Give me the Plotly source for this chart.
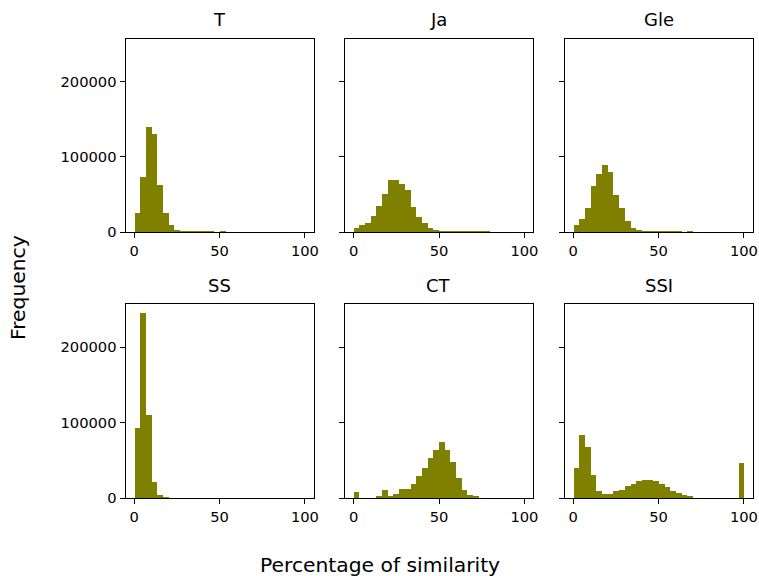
import numpy as np
import plotly.graph_objects as go

# ---- data (counts per bin, 30 equal bins from 0 to 100) ----
panel_titles = ["T", "Ja", "Gle", "SS", "CT", "SSI"]

T_counts = [26000, 73700, 139900, 131100, 63500, 26000, 10600, 3900, 2100, 2000,
            1800, 1700, 1500, 1400, 200, 2500, 0, 0, 0, 0,
            0, 0, 0, 0, 0, 0, 0, 0, 0, 0]
Ja_counts = [6600, 9700, 13200, 22900, 36200, 51700, 69700, 69700, 64900, 57000,
             33900, 21600, 13200, 6600, 3900, 2500, 2200, 2000, 1800, 1600,
             1500, 1300, 1200, 1100, 0, 0, 0, 0, 0, 0]
Gle_counts = [10600, 18500, 33100, 62700, 78100, 90000, 80300, 50700, 33100, 16300,
              7000, 3900, 3000, 2000, 1900, 1800, 1700, 1600, 1500, 0,
              2000, 0, 0, 0, 0, 0, 0, 0, 0, 0]
SS_counts = [92700, 245500, 109500, 20700, 4400, 1300, 0, 0, 0, 0,
             0, 0, 0, 0, 0, 0, 0, 0, 0, 0,
             0, 0, 0, 0, 0, 0, 0, 0, 0, 0]
CT_counts = [7500, 0, 0, 0, 2000, 10200, 2200, 5300, 11900, 11900,
             18500, 28700, 39700, 53000, 64000, 73800, 64000, 47700, 26500, 10600,
             3500, 1800, 0, 0, 0, 0, 0, 0, 0, 0]
SSI_counts = [39700, 83900, 67100, 30000, 8800, 5300, 5300, 8800, 10600, 15500,
              19000, 22500, 23800, 23800, 22500, 19000, 14200, 9700, 6200, 4400,
              1800, 0, 0, 0, 0, 0, 0, 0, 0, 46400]

all_counts = [T_counts, Ja_counts, Gle_counts, SS_counts, CT_counts, SSI_counts]

x_tick_vals = [0, 50, 100]
x_tick_text = ["0", "50", "100"]
y_tick_vals = [0, 100000, 200000]
y_tick_text = ["0", "100000", "200000"]

x_label = "Percentage of similarity"
y_label = "Frequency"

# ---- layout geometry ----
W, H = 759, 576
bin_edges = np.linspace(0, 100, 31)
bin_w = bin_edges[1] - bin_edges[0]
bin_centers = bin_edges[:-1] + bin_w / 2

col_px = [(125.5, 313.5), (345.0, 533.0), (564.5, 752.5)]
row_px = [(38.5, 232.3), (304.0, 498.0)]

FONT = "DejaVu Sans"
BAR = "#808000"
Y_MAX = 257000

fig = go.Figure()
layout = dict(
    template="none",
    width=W, height=H, autosize=False,
    margin=dict(l=0, r=0, t=0, b=0, pad=0, autoexpand=False),
    paper_bgcolor="white", plot_bgcolor="white",
    showlegend=False, bargap=0,
    font=dict(family=FONT, size=14.7, color="black"),
)
annotations = []

for i, (title, counts) in enumerate(zip(panel_titles, all_counts)):
    r, c = divmod(i, 3)
    n = i + 1
    xa = "x" if n == 1 else f"x{n}"
    ya = "y" if n == 1 else f"y{n}"
    fig.add_trace(go.Bar(
        x=bin_centers, y=counts, width=bin_w,
        marker=dict(color=BAR, line=dict(width=0)),
        xaxis=xa, yaxis=ya, hoverinfo="x+y",
    ))
    x0, x1 = col_px[c]
    y0, y1 = row_px[r]
    common = dict(showline=True, mirror=True, linecolor="black", linewidth=1,
                  ticks="outside", ticklen=5, tickwidth=1, tickcolor="black",
                  showgrid=False, zeroline=False, automargin=False)
    layout[f"xaxis{'' if n == 1 else n}"] = dict(
        domain=[x0 / W, x1 / W], anchor=ya, range=[-5, 105],
        tickvals=x_tick_vals, ticktext=x_tick_text, **common)
    layout[f"yaxis{'' if n == 1 else n}"] = dict(
        domain=[1 - y1 / H, 1 - y0 / H], anchor=xa, range=[0, Y_MAX],
        tickvals=y_tick_vals, ticktext=y_tick_text,
        showticklabels=(c == 0), **common)
    annotations.append(dict(
        text=title, xref="paper", yref="paper",
        x=(x0 + x1) / 2 / W, y=1 - (y0 - 19) / H,
        xanchor="center", yanchor="middle", showarrow=False,
        font=dict(family=FONT, size=18, color="black")))

annotations.append(dict(
    text=x_label, xref="paper", yref="paper", x=0.5, y=1 - 565 / H,
    xanchor="center", yanchor="middle", showarrow=False,
    font=dict(family=FONT, size=20.3, color="black")))
annotations.append(dict(
    text=y_label, xref="paper", yref="paper", x=18 / W, y=0.5,
    xanchor="center", yanchor="middle", showarrow=False, textangle=-90,
    font=dict(family=FONT, size=20.3, color="black")))

layout["annotations"] = annotations
fig.update_layout(**layout)
fig.write_html("out.html", config={"displayModeBar": False},
               post_script="document.body.style.margin='0';")
